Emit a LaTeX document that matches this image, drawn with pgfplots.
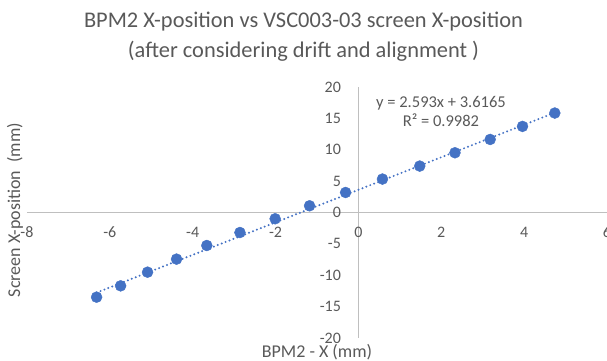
\documentclass[border=0pt]{standalone}
\usepackage{pgfplots}
\pgfplotsset{compat=1.18}
\usepackage{fontspec}
\setmainfont{Carlito}
\usetikzlibrary{calc}
\definecolor{txtgray}{HTML}{595959}
\definecolor{axgray}{HTML}{BFBFBF}
\definecolor{ptblue}{HTML}{4472C4}
\begin{document}
\begin{tikzpicture}[x=1pt,y=1pt]
\begin{axis}[
  scale only axis,
  width=580pt, height=251pt,
  xmin=-8, xmax=6, ymin=-20, ymax=20,
  axis lines=middle,
  axis line style={draw=axgray, line width=0.9pt, -},
  xtick={-8,-6,-4,-2,0,2,4,6},
  ytick={-20,-15,-10,-5,0,5,10,15,20},
  major tick length=0pt,
  hide obscured x ticks=false,
  hide obscured y ticks=false,
  /pgf/number format/assume math mode=true,
  tick label style={font=\fontsize{16}{18}\selectfont, text=txtgray},
  xticklabel style={anchor=north, yshift=-11pt},
  yticklabel style={anchor=east, xshift=-14pt},
  clip=false,
]
\addplot[ptblue, line width=2.2pt, dash pattern=on 0pt off 4.2pt, line cap=round]
  coordinates {(-6.32,-12.77) (4.74,15.91)};
\addplot[only marks, mark=*, mark size=5.5pt, mark options={fill=ptblue, draw=ptblue}]
  coordinates {
  (-6.32,-13.49) (-5.74,-11.69) (-5.09,-9.51) (-4.39,-7.43) (-3.66,-5.26)
  (-2.86,-3.19) (-2.01,-1.00) (-1.18,1.07) (-0.31,3.19) (0.58,5.33)
  (1.48,7.40) (2.33,9.52) (3.18,11.64) (3.96,13.72) (4.74,15.85)};
\coordinate (sw) at (rel axis cs:0,0);
\coordinate (ne) at (rel axis cs:1,1);
\end{axis}
\pgfresetboundingbox
\path[use as bounding box] ($(sw)+(-27,-23)$) rectangle ($(ne)+(0,87)$);
\node[text=txtgray, font=\fontsize{22.4}{30}\selectfont, align=center] at ($(sw)+(276.5,301)$)
  {BPM2 X-position vs VSC003-03 screen X-position\\(after considering drift and alignment )};
\node[text=txtgray, font=\fontsize{18}{20}\selectfont] at ($(sw)+(290,-14)$) {BPM2 - X (mm)};
\node[text=txtgray, font=\fontsize{18}{20}\selectfont, rotate=90] at ($(sw)+(-12,128)$) {Screen X-position\ \ (mm)};
\node[text=txtgray, font=\fontsize{16.5}{19}\selectfont, align=center] at ($(sw)+(414,227)$)
  {y = 2.593x + 3.6165\\R² = 0.9982};
\end{tikzpicture}
\end{document}
